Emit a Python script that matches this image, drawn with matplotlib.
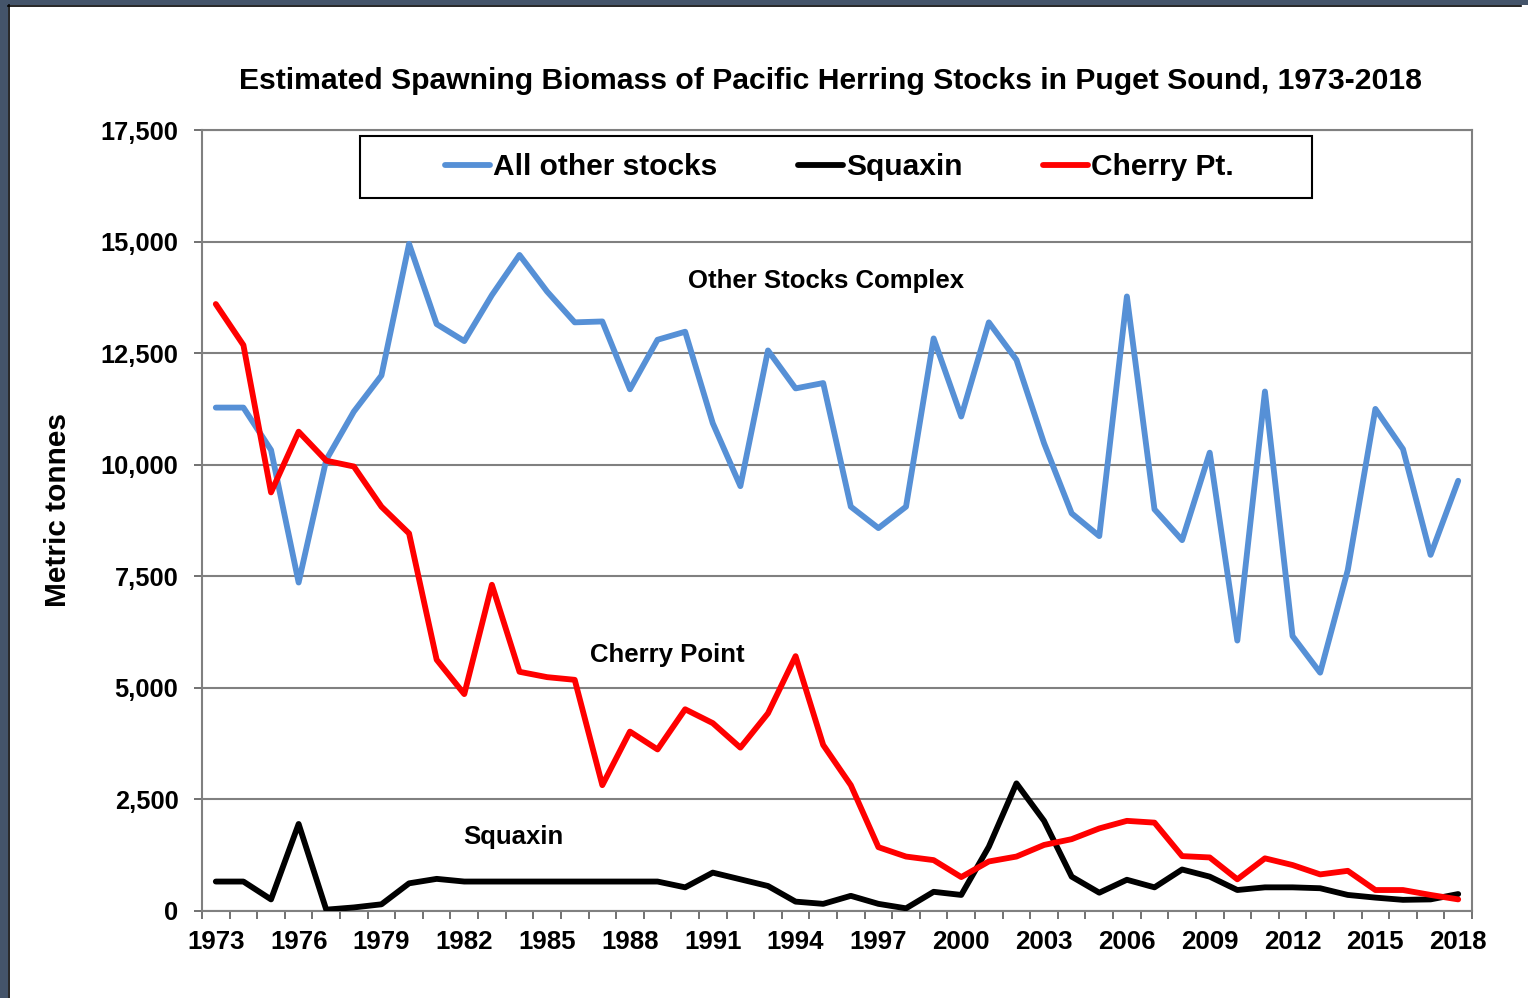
import matplotlib
matplotlib.use("Agg")
import matplotlib.pyplot as plt
from matplotlib.patches import Rectangle
from matplotlib.lines import Line2D
from matplotlib.ticker import FuncFormatter, FixedLocator

plt.rcParams["font.family"] = ["Liberation Sans", "DejaVu Sans"]
plt.rcParams["font.weight"] = "bold"

# data (metric tonnes)
years = list(range(1973, 2019))
label_years = list(range(1973, 2019, 3))
other_stocks = [11280, 11280, 10330, 7360, 10110, 11190, 12000, 14950, 13150, 12770,
                13800, 14700, 13880, 13190, 13210, 11690, 12800, 12980, 10930, 9520,
                12560, 11710, 11830, 9060, 8580, 9060, 12830, 11080, 13190, 12350,
                10480, 8910, 8400, 13770, 9000, 8310, 10270, 6060, 11640, 6160,
                5340, 7640, 11250, 10350, 7980, 9640]
squaxin = [660, 660, 260, 1950, 30, 80, 150, 620, 720, 660,
           660, 660, 660, 660, 660, 660, 660, 530, 860, 710,
           560, 210, 160, 340, 160, 60, 430, 360, 1440, 2860,
           2020, 770, 410, 700, 530, 930, 770, 470, 530, 530,
           510, 360, 300, 250, 260, 380]
cherry_pt = [13600, 12680, 9380, 10740, 10090, 9960, 9060, 8460, 5630, 4860,
             7310, 5360, 5240, 5180, 2820, 4020, 3620, 4520, 4210, 3660,
             4430, 5710, 3720, 2820, 1430, 1220, 1140, 760, 1110, 1220,
             1480, 1610, 1850, 2020, 1980, 1230, 1200, 710, 1180, 1030,
             820, 900, 470, 470, 360, 260]
y_ticks = [0, 2500, 5000, 7500, 10000, 12500, 15000, 17500]

W, H = 1528, 998
fig = plt.figure(figsize=(W / 100, H / 100), dpi=100)
fig.patch.set_facecolor("white")

# dark slide frame on the left and top edges
frame_color = "#44546a"
fig.patches.append(Rectangle((0, 0), 8 / W, 1, transform=fig.transFigure,
                             facecolor=frame_color, edgecolor="none"))
fig.patches.append(Rectangle((0, 1 - 5 / H), 1, 5 / H, transform=fig.transFigure,
                             facecolor=frame_color, edgecolor="none"))
fig.lines.append(Line2D([8.5 / W, 8.5 / W], [0, 1 - 5 / H], transform=fig.transFigure,
                        color="black", lw=1.2))
fig.lines.append(Line2D([8 / W, 1521 / W], [1 - 5.5 / H, 1 - 5.5 / H],
                        transform=fig.transFigure, color="black", lw=1.2))

ax = fig.add_axes([202 / W, 1 - 911 / H, 1270 / W, 781 / H])

line_kw = dict(lw=4.2, solid_capstyle="round", solid_joinstyle="round")
ax.plot(years, other_stocks, color="#5690d6", label="All other stocks", zorder=3, **line_kw)
ax.plot(years, squaxin, color="black", label="Squaxin", zorder=4, **line_kw)
ax.plot(years, cherry_pt, color="#ff0000", label="Cherry Pt.", zorder=5, **line_kw)

ax.set_xlim(years[0] - 0.5, years[-1] + 0.5)
ax.set_ylim(y_ticks[0], y_ticks[-1])

ax.set_yticks(y_ticks)
ax.yaxis.set_major_formatter(FuncFormatter(lambda v, p: f"{int(v):,}"))
ax.tick_params(axis="y", which="major", direction="out", length=6, width=1.2,
               color="#595959", pad=11, labelsize=18.3)
ax.yaxis.grid(True, color="#808080", lw=1.5)
ax.set_axisbelow(True)

ax.xaxis.set_major_locator(FixedLocator(label_years))
ax.xaxis.set_minor_locator(FixedLocator([y - 0.5 for y in years] + [years[-1] + 0.5]))
ax.tick_params(axis="x", which="major", length=0, pad=14, labelsize=18.6)
ax.tick_params(axis="x", which="minor", direction="out", length=6, width=1.2,
               color="#595959")

for side in ["left", "right", "top", "bottom"]:
    ax.spines[side].set_color("#808080")
    ax.spines[side].set_linewidth(1.5)

# series annotations
ax.text(1995.1, 14120, "Other Stocks Complex", ha="center", va="center",
        fontsize=18.5, fontweight="bold")
ax.text(1989.35, 5740, "Cherry Point", ha="center", va="center",
        fontsize=18.5, fontweight="bold")
ax.text(1983.77, 1660, "Squaxin", ha="center", va="center",
        fontsize=18.5, fontweight="bold")

fig.text(830 / W, 1 - 81 / H,
         "Estimated Spawning Biomass of Pacific Herring Stocks in Puget Sound, 1973-2018",
         ha="center", va="center", fontsize=21.7, fontweight="bold")
fig.text(58 / W, 1 - 510 / H, "Metric tonnes", rotation=90, ha="center", va="center",
         fontsize=21.5, fontweight="bold")

# legend without frame + drawn box
ax.legend(loc="center", bbox_to_anchor=(839.5 / W, 1 - 167 / H),
          bbox_transform=fig.transFigure, ncol=3, frameon=False,
          handlelength=1.5, handletextpad=0.1, columnspacing=2.7,
          prop={"size": 21.5, "weight": "bold"})
fig.patches.append(Rectangle((360 / W, 1 - 198 / H), 952 / W, 62 / H,
                             transform=fig.transFigure, fill=False,
                             edgecolor="black", lw=1.5))

fig.savefig("out.png", dpi=100)
